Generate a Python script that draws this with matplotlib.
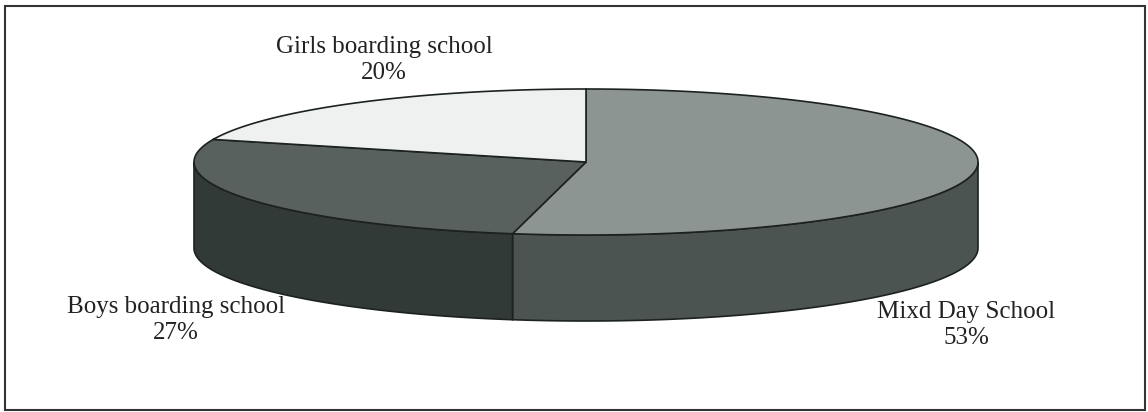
import numpy as np
import matplotlib
matplotlib.use("Agg")
import matplotlib.pyplot as plt
from matplotlib.patches import Polygon, Rectangle

# Data (clockwise from 12 o'clock)
categories = ["Mixd Day School", "Boys boarding school", "Girls boarding school"]
shares = [53, 27, 20]
top_colors = ["#8d9593", "#59615e", "#eef1ef"]
side_colors = ["#4b5451", "#323a37", "#9aa19f"]

# label placement (pixel coords, baseline of first line)
label_pos = [(966, 318), (176, 313), (384, 53)]

# geometry of the 3D pie in pixel space
cx, cy, rx, ry, depth = 586, 162, 392, 73, 86
edge = "#1c2220"

plt.rcParams['font.family'] = ['Liberation Serif', 'DejaVu Serif']

fig = plt.figure(figsize=(11.48, 4.12), dpi=100)
ax = fig.add_axes([0, 0, 1, 1])
ax.set_xlim(0, 1148)
ax.set_ylim(412, 0)
ax.axis('off')


def rim(t):
    t = np.radians(t)
    return cx + rx * np.cos(t), cy - ry * np.sin(t)


# slice angle ranges, going clockwise from 90 degrees
fracs = np.array(shares) / np.sum(shares)
ends = 90 - 360 * np.cumsum(fracs)
starts = np.concatenate([[90], ends[:-1]])

# front side walls (only the half facing the viewer)
for s, e, col in zip(starts, ends, side_colors):
    lo, hi = e, s
    for k in (-360, 0, 360):
        a = max(lo + k, -180)
        b = min(hi + k, 0)
        if b - a > 0.01:
            t = np.linspace(a, b, 200)
            x, y = rim(t)
            xs = np.concatenate([x, x[::-1]])
            ys = np.concatenate([y, y[::-1] + depth])
            ax.add_patch(Polygon(np.column_stack([xs, ys]), closed=True,
                                 facecolor=col, edgecolor=edge, lw=1.2))

# top faces
for s, e, col in zip(starts, ends, top_colors):
    t = np.linspace(s, e, 300)
    x, y = rim(t)
    xs = np.concatenate([[cx], x])
    ys = np.concatenate([[cy], y])
    ax.add_patch(Polygon(np.column_stack([xs, ys]), closed=True,
                         facecolor=col, edgecolor=edge, lw=1.2))

# labels
for name, val, (lx, ly) in zip(categories, shares, label_pos):
    ax.text(lx, ly, name, ha='center', va='baseline', fontsize=18, color='#222')
    ax.text(lx, ly + 26, f"{val}%", ha='center', va='baseline', fontsize=18, color='#222')

# frame around the chart
ax.add_patch(Rectangle((5, 6), 1140, 404, fill=False, edgecolor='#333', lw=1.5))

fig.savefig("out.png", dpi=100)
